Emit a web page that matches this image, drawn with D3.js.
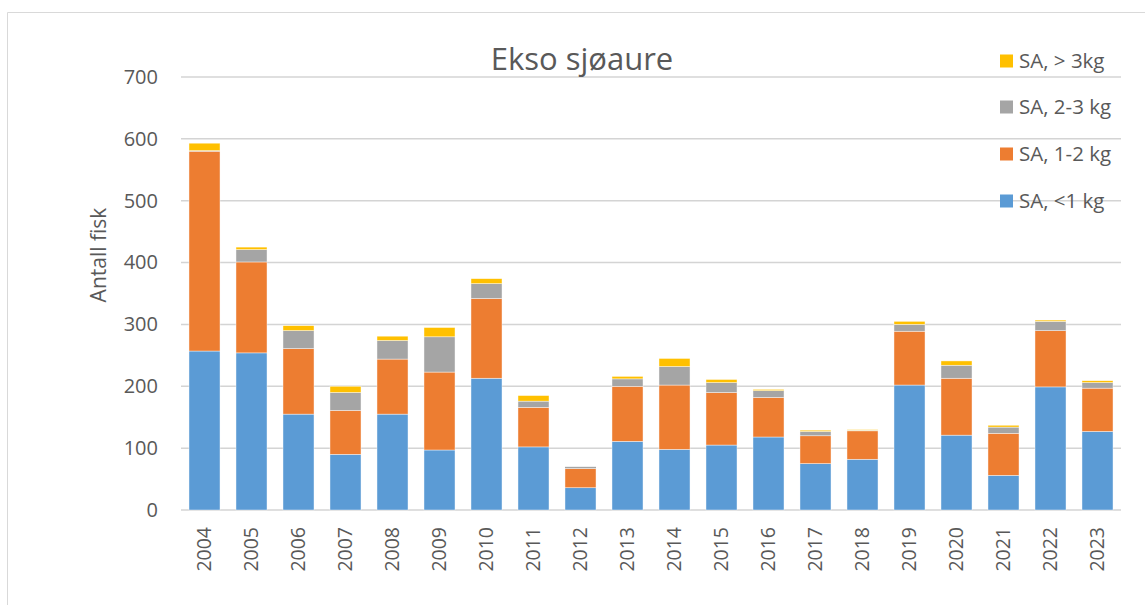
<!DOCTYPE html>
<html>
<head>
<meta charset="utf-8">
<script src="https://cdn.jsdelivr.net/npm/d3@7"></script>
<style>
  body { margin: 0; background: #fff; }
  svg { display: block; font-family: "Open Sans", "Noto Sans", sans-serif; }
</style>
</head>
<body>
<div id="chart"></div>
<script>
const years = ["2004","2005","2006","2007","2008","2009","2010","2011","2012","2013",
               "2014","2015","2016","2017","2018","2019","2020","2021","2022","2023"];
const under1 = [257, 254, 155, 90, 155, 97, 213, 102, 36, 111, 98, 105, 118, 75, 82, 202, 121, 56, 199, 127];
const kg1to2 = [323, 147, 106, 71, 89, 126, 129, 64, 31, 89, 104, 85, 64, 45, 46, 87, 92, 68, 91, 70];
const kg2to3 = [1, 20, 29, 29, 30, 57, 24, 10, 3, 12, 30, 16, 11, 7, 1, 11, 21, 10, 15, 9];
const over3 = [12, 4, 8, 10, 7, 15, 8, 9, 0, 4, 13, 5, 2, 2, 1, 5, 7, 3, 2, 3];
const seriesNames = ["SA, <1 kg", "SA, 1-2 kg", "SA, 2-3 kg", "SA, > 3kg"];
const seriesColors = ["#5b9bd5", "#ed7d31", "#a5a5a5", "#ffc000"];
const yTicks = [0, 100, 200, 300, 400, 500, 600, 700];

const W = 1145, H = 605;
const svg = d3.select("#chart").append("svg").attr("width", W).attr("height", H);

// frame
svg.append("path")
    .attr("d", `M7.5,${H} V12.5 H${W}`)
    .attr("fill", "none").attr("stroke", "#d9d9d9").attr("stroke-width", 1);

// table for stack
const rows = years.map((y, i) => ({year: y, s0: under1[i], s1: kg1to2[i], s2: kg2to3[i], s3: over3[i]}));
const stack = d3.stack().keys(["s0", "s1", "s2", "s3"])(rows);

// scales
const x = d3.scaleBand().domain(years).range([181, 1121]).paddingInner(0.34).paddingOuter(0.17);
const y = d3.scaleLinear().domain([0, 700]).range([510, 77]);

// gridlines
svg.append("g").selectAll("line")
    .data(yTicks).enter()
    .append("line")
    .attr("x1", 181).attr("x2", 1121)
    .attr("y1", d => y(d)).attr("y2", d => y(d))
    .style("stroke", "#d4d4d4")
    .style("stroke-width", 1.5);

// axis_y
const axis_y = svg.append("g")
    .attr("transform", "translate(181,0)")
    .call(d3.axisLeft(y).tickValues(yTicks).tickSize(0).tickPadding(23));
axis_y.select(".domain").remove();
axis_y.selectAll("text")
    .style("font-family", "Open Sans").style("font-size", "20px").style("fill", "#595959");

// bars
svg.append("g").selectAll("g")
    .data(stack).enter()
    .append("g")
    .attr("fill", (d, i) => seriesColors[i])
    .selectAll("rect")
    .data(d => d).enter()
    .append("rect")
    .attr("x", d => x(d.data.year))
    .attr("width", x.bandwidth())
    .attr("y", d => y(d[1]))
    .attr("height", d => y(d[0]) - y(d[1]))
    .style("stroke", "#fff")
    .style("stroke-width", 0.6)
    .style("stroke-opacity", 0.7);

// axis_x
const axis_x = svg.append("g")
    .attr("transform", "translate(0,510)")
    .call(d3.axisBottom(x).tickSize(0));
axis_x.select(".domain").remove();
axis_x.selectAll("text")
    .attr("transform", "rotate(-90)")
    .attr("x", -17).attr("y", 0).attr("dy", "0.35em")
    .style("text-anchor", "end")
    .style("font-family", "Open Sans").style("font-size", "19.5px").style("fill", "#595959");

// axis label
svg.append("text")
    .attr("transform", "translate(106,255) rotate(-90)")
    .attr("text-anchor", "middle")
    .style("font-size", "21px").style("fill", "#595959")
    .text("Antall fisk");

// title
svg.append("text")
    .attr("x", 582).attr("y", 70)
    .attr("text-anchor", "middle")
    .style("font-size", "31px").style("fill", "#595959")
    .text("Ekso sjøaure");

// legend
const legendY = [201, 154, 107, 61];
const legend = svg.append("g").selectAll("g")
    .data(seriesNames).enter()
    .append("g")
    .attr("transform", (d, i) => `translate(1000,${legendY[i]})`);
legend.append("rect")
    .attr("x", 0).attr("y", -6.5).attr("width", 13).attr("height", 13)
    .attr("fill", (d, i) => seriesColors[i]);
legend.append("text")
    .attr("x", 19).attr("y", 0).attr("dy", "0.35em")
    .style("font-size", "20.5px").style("fill", "#595959")
    .text(d => d);
</script>
</body>
</html>
